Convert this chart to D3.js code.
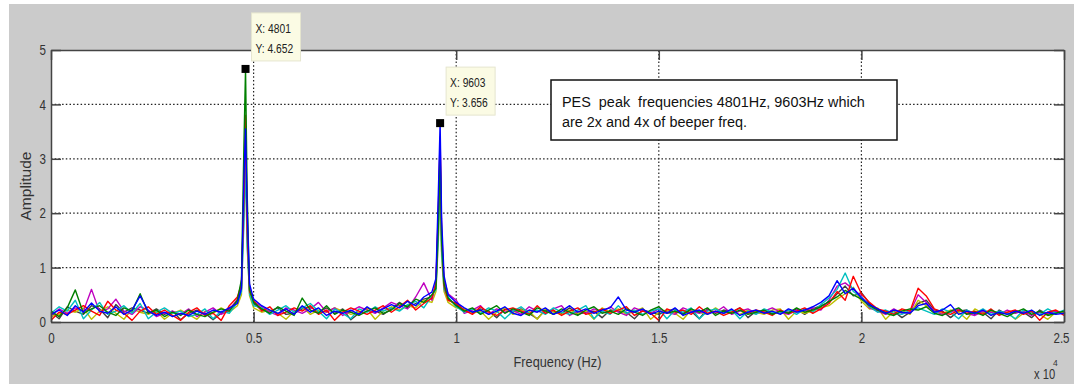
<!DOCTYPE html>
<html>
<head>
<meta charset="utf-8">
<script src="https://cdn.jsdelivr.net/npm/d3@7"></script>
<style>
  body { margin: 0; background: #fff; }
  svg { display: block; }
  .tick text { font-family: "Liberation Sans", Arial, sans-serif; font-size: 14.5px; fill: #333; }
</style>
</head>
<body>
<div id="chart"></div>
<script>
// frequency points (Hz) shared by every trace
const freqs = [
  0,200,400,600,800,1000,1200,1400,1600,1800,2000,2200,2400,2600,2800,3000,3200,3400,3600,3800,4000,4200,4400,4600,
  4700,4760,4801,4840,4900,
  5000,5200,5400,5600,5800,6000,6200,6400,6600,6800,7000,7200,7400,7600,7800,8000,8200,8400,8600,8800,9000,9200,9400,
  9500,9560,9603,9640,9700,9800,
  10000,10200,10400,10600,10800,11000,11200,11400,11600,11800,12000,12200,12400,12600,12800,13000,13200,13400,13600,
  13800,14000,14200,14400,14600,14800,15000,15200,15400,15600,15800,16000,16200,16400,16600,16800,17000,17200,17400,
  17600,17800,18000,18200,18400,18600,18800,19000,19200,19400,19600,19800,20000,20200,20400,20600,20800,21000,21200,
  21400,21600,21800,22000,22200,22400,22600,22800,23000,23200,23400,23600,23800,24000,24200,24400,24600,24800,25000
];

// amplitude of each recorded trace
const traceGray = [
  0.18,0.06,0.28,0.20,0.14,0.30,0.24,0.08,0.32,0.18,0.26,0.22,0.16,0.24,0.14,0.20,0.04,0.16,0.22,0.16,0.04,0.16,0.24,0.38,
  0.60,2.30,3.40,1.80,0.58,
  0.34,0.22,0.20,0.26,0.14,0.16,0.24,0.28,0.18,0.26,0.16,0.24,0.04,0.16,0.26,0.20,0.14,0.24,0.36,0.26,0.34,0.42,0.46,
  0.66,1.90,3.00,1.40,0.70,0.42,
  0.32,0.20,0.18,0.24,0.20,0.08,0.24,0.18,0.24,0.16,0.06,0.22,0.20,0.16,0.26,0.14,0.18,0.20,0.08,
  0.22,0.20,0.18,0.06,0.22,0.18,0.14,0.20,0.24,0.16,0.20,0.06,0.24,0.16,0.22,0.18,0.26,0.08,0.20,
  0.18,0.16,0.20,0.18,0.24,0.14,0.24,0.30,0.36,0.52,0.66,0.48,0.54,0.34,0.22,0.18,0.20,0.08,0.18,
  0.34,0.40,0.22,0.20,0.08,0.20,0.22,0.14,0.18,0.06,0.22,0.14,0.20,0.18,0.08,0.22,0.14,0.20,0.18
];
const traceOlive = [
  0.10,0.14,0.22,0.18,0.26,0.05,0.20,0.28,0.16,0.05,0.24,0.18,0.14,0.20,0.05,0.16,0.22,0.14,0.05,0.20,0.16,0.26,0.18,0.30,
  0.50,2.00,3.00,1.50,0.48,
  0.26,0.18,0.22,0.16,0.05,0.20,0.28,0.14,0.22,0.18,0.26,0.20,0.14,0.18,0.24,0.05,0.20,0.28,0.22,0.30,0.26,0.40,0.36,
  0.56,1.50,2.60,1.20,0.56,0.36,
  0.26,0.24,0.16,0.20,0.05,0.18,0.26,0.14,0.22,0.20,0.05,0.24,0.18,0.14,0.22,0.16,0.20,0.05,0.26,
  0.18,0.24,0.14,0.20,0.26,0.05,0.18,0.22,0.16,0.05,0.22,0.18,0.14,0.26,0.16,0.20,0.14,0.22,0.18,
  0.14,0.22,0.24,0.05,0.20,0.16,0.20,0.26,0.30,0.42,0.52,0.64,0.38,0.24,0.26,0.05,0.20,0.22,0.14,
  0.40,0.30,0.20,0.16,0.22,0.18,0.05,0.24,0.16,0.20,0.14,0.18,0.05,0.16,0.20,0.14,0.05,0.18,0.16
];
const traceMagenta = [
  0.12,0.24,0.16,0.26,0.20,0.60,0.18,0.24,0.42,0.20,0.14,0.28,0.22,0.10,0.16,0.20,0.14,0.24,0.10,0.18,0.26,0.14,0.22,0.42,
  0.66,2.40,3.30,1.90,0.64,
  0.38,0.28,0.18,0.12,0.26,0.22,0.16,0.24,0.36,0.18,0.26,0.12,0.20,0.28,0.22,0.16,0.26,0.36,0.30,0.24,0.46,0.72,0.40,
  0.74,2.10,3.40,1.70,0.78,0.52,
  0.40,0.16,0.22,0.30,0.14,0.24,0.18,0.22,0.14,0.28,0.20,0.16,0.24,0.30,0.12,0.20,0.16,0.24,0.18,
  0.28,0.18,0.12,0.26,0.20,0.16,0.24,0.18,0.14,0.26,0.20,0.16,0.22,0.18,0.28,0.14,0.20,0.24,0.16,
  0.20,0.26,0.18,0.14,0.22,0.20,0.26,0.22,0.40,0.66,0.72,0.60,0.48,0.26,0.20,0.14,0.24,0.16,0.18,
  0.50,0.36,0.20,0.14,0.18,0.24,0.16,0.12,0.20,0.18,0.14,0.22,0.16,0.20,0.12,0.18,0.16,0.20,0.14
];
const traceCyan = [
  0.16,0.28,0.20,0.40,0.06,0.22,0.36,0.14,0.20,0.30,0.16,0.34,0.06,0.18,0.26,0.16,0.20,0.10,0.14,0.24,0.06,0.20,0.16,0.36,
  0.56,1.80,2.90,1.40,0.52,
  0.30,0.26,0.14,0.22,0.30,0.18,0.26,0.34,0.20,0.06,0.24,0.16,0.06,0.24,0.18,0.28,0.20,0.26,0.20,0.32,0.38,0.26,0.48,
  0.60,1.60,2.80,1.30,0.60,0.46,
  0.28,0.18,0.24,0.16,0.26,0.20,0.06,0.20,0.28,0.16,0.22,0.14,0.26,0.18,0.14,0.22,0.30,0.06,0.20,
  0.14,0.30,0.16,0.22,0.14,0.20,0.24,0.06,0.22,0.18,0.26,0.06,0.20,0.24,0.16,0.22,0.06,0.20,0.14,
  0.24,0.18,0.16,0.22,0.14,0.24,0.18,0.32,0.44,0.60,0.90,0.56,0.46,0.28,0.18,0.22,0.16,0.14,0.22,
  0.26,0.20,0.14,0.24,0.18,0.06,0.22,0.16,0.24,0.14,0.20,0.16,0.06,0.22,0.18,0.14,0.24,0.16,0.22
];
const traceRed = [
  0.03,0.18,0.14,0.22,0.30,0.20,0.12,0.38,0.22,0.16,0.03,0.20,0.28,0.14,0.22,0.12,0.03,0.18,0.26,0.12,0.16,0.03,0.30,0.46,
  0.70,2.20,3.80,1.70,0.56,
  0.40,0.20,0.28,0.12,0.18,0.26,0.20,0.30,0.14,0.22,0.03,0.18,0.26,0.20,0.14,0.22,0.30,0.18,0.28,0.40,0.22,0.34,0.44,
  0.70,2.00,3.30,1.60,0.66,0.40,
  0.34,0.22,0.14,0.28,0.18,0.12,0.22,0.26,0.20,0.14,0.30,0.16,0.22,0.12,0.20,0.26,0.14,0.18,0.24,
  0.16,0.22,0.28,0.12,0.20,0.16,0.03,0.24,0.18,0.22,0.14,0.28,0.16,0.20,0.12,0.18,0.26,0.16,0.22,
  0.18,0.12,0.22,0.16,0.20,0.26,0.16,0.24,0.34,0.56,0.40,0.84,0.52,0.36,0.24,0.20,0.14,0.24,0.20,
  0.62,0.48,0.24,0.18,0.14,0.22,0.16,0.20,0.14,0.24,0.12,0.18,0.22,0.14,0.20,0.03,0.18,0.22,0.12
];
const traceGreen = [
  0.20,0.10,0.26,0.59,0.16,0.24,0.30,0.18,0.12,0.26,0.20,0.52,0.16,0.22,0.10,0.18,0.12,0.22,0.14,0.10,0.18,0.24,0.20,0.40,
  0.78,3.20,4.652,2.40,0.60,
  0.36,0.24,0.16,0.28,0.20,0.12,0.44,0.22,0.16,0.30,0.14,0.22,0.18,0.12,0.20,0.26,0.16,0.22,0.34,0.28,0.42,0.36,0.50,
  0.62,1.80,3.10,1.50,0.70,0.44,
  0.30,0.20,0.26,0.14,0.22,0.30,0.16,0.24,0.18,0.12,0.26,0.20,0.14,0.24,0.18,0.12,0.22,0.28,0.16,
  0.20,0.14,0.24,0.18,0.12,0.22,0.28,0.16,0.20,0.14,0.24,0.18,0.26,0.12,0.20,0.16,0.22,0.14,0.18,
  0.22,0.14,0.20,0.16,0.26,0.18,0.22,0.28,0.38,0.46,0.58,0.50,0.42,0.30,0.22,0.16,0.12,0.20,0.24,
  0.22,0.28,0.16,0.12,0.20,0.26,0.14,0.18,0.12,0.22,0.16,0.10,0.18,0.24,0.14,0.20,0.12,0.16,0.20
];
const traceBlue = [
  0.14,0.22,0.12,0.30,0.18,0.35,0.20,0.16,0.28,0.14,0.22,0.48,0.20,0.12,0.18,0.10,0.16,0.12,0.20,0.14,0.22,0.18,0.26,0.34,
  0.62,2.60,3.55,2.10,0.70,
  0.42,0.30,0.22,0.16,0.24,0.14,0.30,0.18,0.26,0.12,0.20,0.16,0.22,0.14,0.28,0.18,0.24,0.32,0.26,0.38,0.30,0.46,0.55,
  0.80,2.40,3.656,1.90,0.85,0.50,
  0.36,0.26,0.18,0.22,0.14,0.20,0.28,0.16,0.12,0.22,0.18,0.26,0.14,0.20,0.30,0.18,0.24,0.16,0.22,
  0.26,0.46,0.22,0.18,0.24,0.14,0.20,0.16,0.26,0.12,0.18,0.22,0.14,0.20,0.16,0.24,0.12,0.18,0.22,
  0.16,0.20,0.14,0.24,0.18,0.22,0.28,0.36,0.48,0.76,0.52,0.62,0.44,0.32,0.24,0.16,0.22,0.18,0.16,
  0.30,0.34,0.18,0.22,0.32,0.14,0.20,0.16,0.22,0.12,0.18,0.14,0.20,0.16,0.22,0.12,0.18,0.14,0.16
];

const traces = [traceGray, traceOlive, traceMagenta, traceCyan, traceRed, traceGreen, traceBlue];
const traceColors = ["#404040", "#bfbf00", "#bf00bf", "#00bfbf", "#ff0000", "#008000", "#0000ff"];

const xTicks = [0, 5000, 10000, 15000, 20000, 25000];
const xTickLabels = ["0", "0.5", "1", "1.5", "2", "2.5"];
const yTicks = [0, 1, 2, 3, 4, 5];

// data tips
const tipFreqs = [4801, 9603];
const tipAmps = [4.652, 3.656];

const noteLines = ["PES  peak  frequencies 4801Hz, 9603Hz which", "are 2x and 4x of beeper freq."];

const width = 1074;
const height = 384;
const font = "'Liberation Sans', Arial, sans-serif";

// the screenshot is squeezed sideways, so horizontal text comes out narrow
const squeeze = (sel, k) => sel.each(function () {
    const w = this.getComputedTextLength();
    d3.select(this).attr("textLength", w * k).attr("lengthAdjust", "spacingAndGlyphs");
});

const svg = d3.select("#chart").append("svg")
    .attr("width", width)
    .attr("height", height);

// grey figure background
svg.append("rect")
    .attr("x", 9).attr("y", 4)
    .attr("width", width - 9).attr("height", height - 4)
    .attr("fill", "#cbcbcb");

const x = d3.scaleLinear().domain([0, 25000]).range([51, 1064]);
const y = d3.scaleLinear().domain([0, 5]).range([322, 50]);

svg.append("rect")
    .attr("x", x(0)).attr("y", y(5))
    .attr("width", x(25000) - x(0)).attr("height", y(0) - y(5))
    .attr("fill", "#fff");

// dotted grid
const grid = svg.append("g").attr("stroke", "#222").attr("stroke-width", 1.2).attr("stroke-dasharray", "1.5,2.2");
grid.selectAll(".gy").data(yTicks.slice(1, -1)).enter().append("line")
    .attr("x1", x(0)).attr("x2", x(25000))
    .attr("y1", (d) => y(d)).attr("y2", (d) => y(d));
grid.selectAll(".gx").data(xTicks.slice(1, -1)).enter().append("line")
    .attr("y1", y(0)).attr("y2", y(5))
    .attr("x1", (d) => x(d)).attr("x2", (d) => x(d));

svg.append("clipPath").attr("id", "clip")
    .append("rect")
    .attr("x", x(0)).attr("y", y(5))
    .attr("width", x(25000) - x(0)).attr("height", y(0) - y(5));

const line = d3.line()
    .x((d, i) => x(freqs[i]))
    .y((d) => y(d));

svg.append("g").attr("clip-path", "url(#clip)")
    .selectAll("path").data(traces).enter().append("path")
    .attr("d", line)
    .attr("fill", "none")
    .attr("stroke", (d, i) => traceColors[i])
    .attr("stroke-width", 1.4)
    .attr("stroke-linejoin", "round");

// axes, ticks pointing inward like matlab
const axisColor = "#444";
const axBottom = svg.append("g").attr("transform", "translate(0," + y(0) + ")")
    .call(d3.axisBottom(x).tickValues(xTicks).tickFormat((d, i) => xTickLabels[i]).tickSizeInner(-10).tickSizeOuter(0).tickPadding(11));
const axLeft = svg.append("g").attr("transform", "translate(" + x(0) + ",0)")
    .call(d3.axisLeft(y).tickValues(yTicks).tickFormat(d3.format("d")).tickSizeInner(-10).tickSizeOuter(0).tickPadding(5));
const axTop = svg.append("g").attr("transform", "translate(0," + y(5) + ")")
    .call(d3.axisTop(x).tickValues(xTicks).tickFormat("").tickSizeInner(-10).tickSizeOuter(0));
const axRight = svg.append("g").attr("transform", "translate(" + x(25000) + ",0)")
    .call(d3.axisRight(y).tickValues(yTicks).tickFormat("").tickSizeInner(-10).tickSizeOuter(0));

[axBottom, axLeft, axTop, axRight].forEach((g) => {
    g.select(".domain").attr("stroke", axisColor).attr("stroke-width", 1.5);
    g.selectAll(".tick line").attr("stroke", axisColor).attr("stroke-width", 1.5);
});
squeeze(axBottom.selectAll(".tick text"), 0.8);
squeeze(axLeft.selectAll(".tick text"), 0.8);
// last x label sits against the window edge, nudge it in a little
axBottom.selectAll(".tick text").filter((d) => d === 25000).attr("dx", -3);

// axis labels
svg.append("text")
    .attr("x", (x(0) + x(25000)) / 2).attr("y", 367)
    .attr("text-anchor", "middle")
    .style("font-family", font).style("font-size", "15px").attr("fill", "#333")
    .text("Frequency (Hz)")
    .call(squeeze, 0.85);

svg.append("text")
    .attr("transform", "translate(31," + (y(0) + y(5)) / 2 + ") rotate(-90)")
    .attr("text-anchor", "middle")
    .style("font-family", font).style("font-size", "15.5px").attr("fill", "#333")
    .text("Amplitude");

// axis multiplier, x 10^4
const expoBase = svg.append("text")
    .attr("x", 1034).attr("y", 379)
    .style("font-family", font).style("font-size", "14px").attr("fill", "#333")
    .text("x 10")
    .call(squeeze, 0.8);
svg.append("text")
    .attr("x", 1034 + expoBase.node().getComputedTextLength() * 0.8 + 2).attr("y", 366)
    .style("font-family", font).style("font-size", "8.5px").attr("fill", "#333")
    .text("4");

// data tip markers and boxes
tipFreqs.forEach((f, i) => {
    const px = x(f), py = y(tipAmps[i]);
    svg.append("rect")
        .attr("x", px - 4).attr("y", py - 4)
        .attr("width", 8).attr("height", 8)
        .attr("fill", "#000");
    const g = svg.append("g").attr("transform", "translate(" + (px + 6) + "," + (py - 56) + ")");
    g.append("rect")
        .attr("width", 49).attr("height", 48)
        .attr("fill", "#fbfbe4").attr("stroke", "#e6e6cf");
    g.append("text").attr("x", 4).attr("y", 20)
        .style("font-family", font).style("font-size", "12.5px").attr("fill", "#222")
        .text("X: " + f)
        .call(squeeze, 0.82);
    g.append("text").attr("x", 4).attr("y", 40)
        .style("font-family", font).style("font-size", "12.5px").attr("fill", "#222")
        .text("Y: " + d3.format(".3f")(tipAmps[i]))
        .call(squeeze, 0.82);
});

// text note
svg.append("rect")
    .attr("x", 551).attr("y", 80)
    .attr("width", 346).attr("height", 60)
    .attr("fill", "#fff").attr("stroke", "#111").attr("stroke-width", 1.5);
svg.selectAll(".note").data(noteLines).enter().append("text")
    .attr("x", 562).attr("y", (d, i) => 107 + i * 20)
    .attr("xml:space", "preserve")
    .style("white-space", "pre")
    .style("font-family", font).style("font-size", "15.5px").attr("fill", "#111")
    .text((d) => d)
    .call(squeeze, 0.93);
</script>
</body>
</html>
